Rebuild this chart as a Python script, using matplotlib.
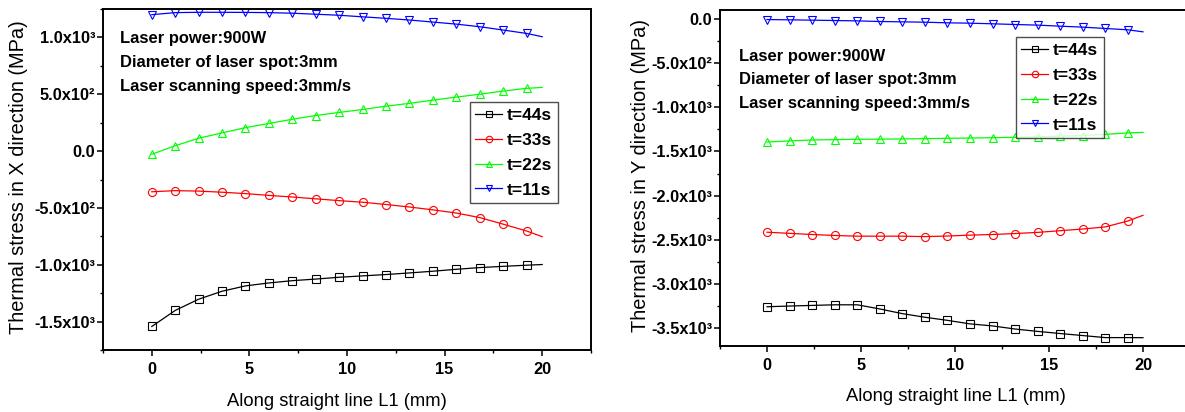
import matplotlib
matplotlib.use('Agg')
import matplotlib.pyplot as plt
from matplotlib.ticker import MultipleLocator, FixedLocator

plt.rcParams['font.family'] = ['Liberation Sans', 'DejaVu Sans']

# ---------------- data ----------------
x_mm = [0, 1.2, 2.4, 3.6, 4.8, 6.0, 7.2, 8.4, 9.6, 10.8, 12.0, 13.2, 14.4, 15.6, 16.8, 18.0, 19.2, 20.0]

labels = ['t=44s', 't=33s', 't=22s', 't=11s']

# stress in X direction (MPa)
sx_44 = [-1543, -1402, -1303, -1233, -1186, -1160, -1140, -1126, -1110, -1098, -1086, -1072, -1057, -1040, -1025, -1014, -1004, -998]
sx_33 = [-358, -348, -352, -362, -374, -390, -404, -420, -436, -450, -470, -492, -517, -545, -585, -643, -703, -753]
sx_22 = [-28, 47, 113, 160, 206, 243, 280, 313, 340, 366, 395, 420, 448, 475, 500, 528, 552, 560]
sx_11 = [1200, 1218, 1221, 1221, 1220, 1218, 1213, 1204, 1195, 1181, 1168, 1153, 1135, 1117, 1094, 1065, 1035, 1006]

# stress in Y direction (MPa)
sy_44 = [-3256, -3248, -3241, -3234, -3234, -3281, -3334, -3375, -3410, -3450, -3473, -3508, -3535, -3559, -3582, -3605, -3605, -3606]
sy_33 = [-2413, -2426, -2439, -2450, -2458, -2458, -2458, -2463, -2456, -2446, -2439, -2428, -2415, -2396, -2377, -2353, -2286, -2222]
sy_22 = [-1393, -1381, -1370, -1366, -1362, -1361, -1358, -1355, -1351, -1348, -1344, -1340, -1334, -1327, -1320, -1306, -1290, -1284]
sy_11 = [-8, -11, -15, -19, -23, -30, -34, -38, -45, -49, -56, -64, -71, -83, -94, -109, -124, -147]

x_ticks = [0, 5, 10, 15, 20]
x_ticklabels = ['0', '5', '10', '15', '20']
yL_ticks = [1000, 500, 0, -500, -1000, -1500]
yL_ticklabels = ['1.0x10³', '5.0x10²', '0.0', '-5.0x10²', '-1.0x10³', '-1.5x10³']
yR_ticks = [0, -500, -1000, -1500, -2000, -2500, -3000, -3500]
yR_ticklabels = ['0.0', '-5.0x10²', '-1.0x10³', '-1.5x10³', '-2.0x10³', '-2.5x10³', '-3.0x10³', '-3.5x10³']

notes = ['Laser power:900W', 'Diameter of laser spot:3mm', 'Laser scanning speed:3mm/s']

# ---------------- styling ----------------
colors = ['black', '#ff0000', '#00ff00', '#0000ff']
markers = ['s', 'o', '^', 'v']
msizes = [5.2, 5.8, 5.8, 5.8]

W, H = 1185, 412
fig = plt.figure(figsize=(W / 100, H / 100), dpi=100)


def px_axes(l, t, r, b):
    return fig.add_axes([l / W, 1 - b / H, (r - l) / W, (b - t) / H])


def style_axes(ax, ylim, yticks, yticklabels):
    ax.set_xlim(-2.5, 22.5)
    ax.set_ylim(*ylim)
    ax.xaxis.set_major_locator(FixedLocator(x_ticks))
    ax.set_xticklabels(x_ticklabels)
    ax.xaxis.set_minor_locator(MultipleLocator(2.5))
    ax.yaxis.set_major_locator(FixedLocator(yticks))
    ax.set_yticklabels(yticklabels)
    ax.yaxis.set_minor_locator(MultipleLocator(250))
    ax.tick_params(which='major', direction='out', length=4, width=1.1,
                   labelsize=11.8, pad=1.5)
    ax.tick_params(which='minor', direction='out', length=2.2, width=1.0)
    ax.tick_params(axis='x', which='major', pad=5)
    for lab in ax.get_xticklabels() + ax.get_yticklabels():
        lab.set_fontweight('bold')
    for sp in ax.spines.values():
        sp.set_linewidth(1.4)
    ax.tick_params(top=False, right=False)


def draw_series(ax, series):
    for ys, lab, c, m, ms in zip(series, labels, colors, markers, msizes):
        ax.plot(x_mm, ys, color=c, lw=0.9, marker=m, ms=ms, mfc='none',
                mec=c, mew=0.8, markevery=slice(0, len(x_mm) - 1), label=lab)


def draw_legend(ax, anchor):
    leg = ax.legend(loc='upper left', bbox_to_anchor=anchor, borderaxespad=0,
                    prop={'weight': 'bold', 'size': 12.5}, frameon=True,
                    fancybox=False, edgecolor='#222222', handlelength=1.55,
                    handletextpad=0.25, labelspacing=0.56, borderpad=0.33,
                    markerscale=0.8)
    leg.get_frame().set_linewidth(1.0)
    return leg


# ---------------- left panel ----------------
axL = px_axes(103, 9, 591, 350)
draw_series(axL, [sx_44, sx_33, sx_22, sx_11])
style_axes(axL, (-1750, 1250), yL_ticks, yL_ticklabels)
draw_legend(axL, ((469.5 - 103) / 488, (350 - 102) / 341))
for i, s in enumerate(notes):
    fig.text(120 / W, 1 - (42.7 + 24 * i) / H, s, fontsize=11.9,
             fontweight='bold', va='baseline', ha='left')
fig.text(337 / W, 1 - 406 / H, 'Along straight line L1 (mm)', fontsize=13.2,
         va='baseline', ha='center')
fig.text(19 / W, 1 - 177 / H, 'Thermal stress in X direction (MPa)',
         fontsize=14.4, rotation=90, va='center', ha='center')

# ---------------- right panel ----------------
axR = px_axes(720, 10, 1190, 346)
draw_series(axR, [sy_44, sy_33, sy_22, sy_11])
style_axes(axR, (-3700, 100), yR_ticks, yR_ticklabels)
draw_legend(axR, ((1015.6 - 720) / 470, (346 - 37) / 336))
for i, s in enumerate(notes):
    fig.text(739 / W, 1 - (61 + 23.4 * i) / H, s, fontsize=11.9,
             fontweight='bold', va='baseline', ha='left')
fig.text(956 / W, 1 - 401 / H, 'Along straight line L1 (mm)', fontsize=13.2,
         va='baseline', ha='center')
fig.text(640 / W, 1 - 175 / H, 'Thermal stress in Y direction (MPa)',
         fontsize=14.4, rotation=90, va='center', ha='center')

fig.savefig('out.png', dpi=100)
